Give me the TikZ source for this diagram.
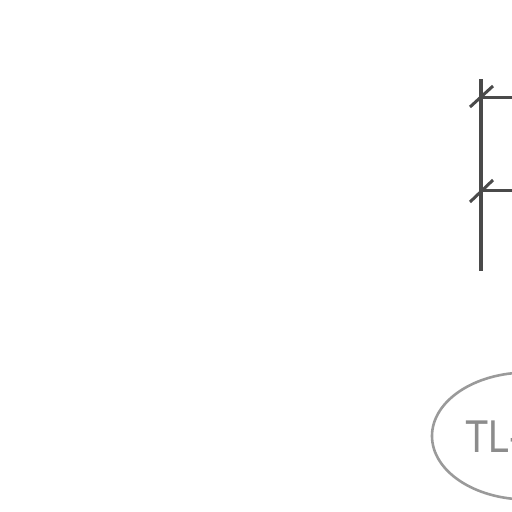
\documentclass[tikz,border=0pt]{standalone}
\usepackage{fontspec}
\setsansfont{Liberation Sans}
\usetikzlibrary{calc,shapes.geometric}
\definecolor{ink}{HTML}{4A4A4A}
\definecolor{mist}{HTML}{9A9A9A}
\definecolor{label}{HTML}{8C8C8C}

\begin{document}
\begin{tikzpicture}[x=1pt,y=-1pt,wire/.style={draw=ink,line width=3.2pt},tick/.style={draw=ink,line width=3pt}]
\useasboundingbox (0,0) rectangle (512,512);
\clip (0,0) rectangle (512,512);
\coordinate (top) at (481,79);
\coordinate (bot) at (481,271);
\coordinate (j1) at (481,97);
\coordinate (j2) at (481,190);
\coordinate (r1) at (530,97);
\coordinate (r2) at (530,190);
\draw[wire] (top)--(bot);
\draw[wire,line width=3pt] (j1)--(r1); \draw[wire,line width=3pt] (j2)--(r2);
\draw[tick] ($(j1)+(-11,10)$)--($(j1)+(12,-11)$);
\draw[tick] ($(j2)+(-11,12)$)--($(j2)+(12,-10)$);
\node[ellipse,draw=mist,line width=2.6pt,minimum width=190pt,minimum height=127pt] (tl) at (527,436) {};
\node[anchor=west,text=label,font=\sffamily\fontsize{46}{46}\selectfont,inner sep=0pt] (tltext) at (465,437) {\scalebox{0.83}[1]{TL-}};
\end{tikzpicture}
\end{document}
